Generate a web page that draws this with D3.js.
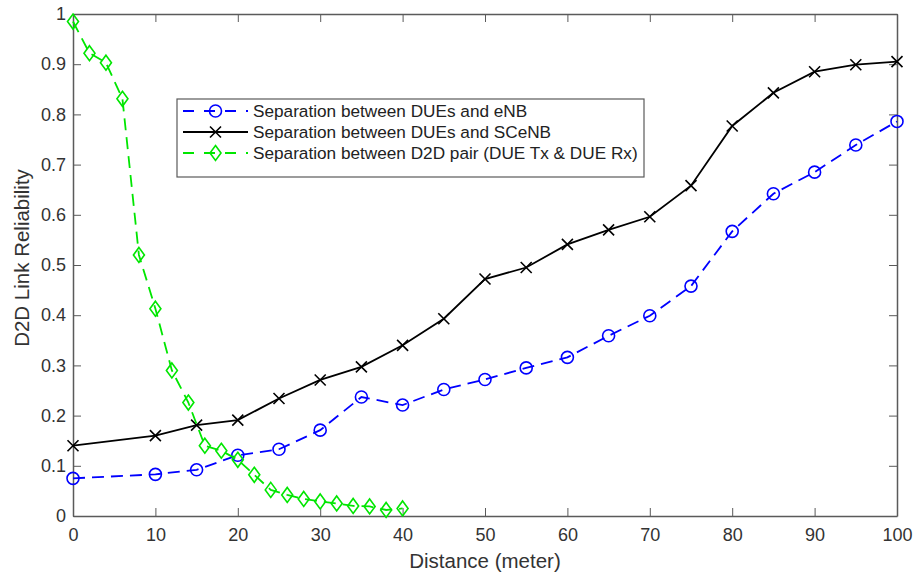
<!DOCTYPE html>
<html><head><meta charset="utf-8">
<script src="https://cdn.jsdelivr.net/npm/d3@7"></script>
<style>body{margin:0;background:#fff}</style>
</head><body>
<svg id="c" width="920" height="575"></svg>
<script>
const xTicks = [0,10,20,30,40,50,60,70,80,90,100];
const yTicks = [0,0.1,0.2,0.3,0.4,0.5,0.6,0.7,0.8,0.9,1];
const xENB = [0,10,15,20,25,30,35,40,45,50,55,60,65,70,75,80,85,90,95,100];
const yENB = [0.075,0.083,0.092,0.121,0.133,0.171,0.237,0.221,0.252,0.272,0.295,0.316,0.359,0.399,0.458,0.567,0.642,0.685,0.739,0.786];
const xSC = [0,10,15,20,25,30,35,40,45,50,55,60,65,70,75,80,85,90,95,100];
const ySC = [0.140,0.160,0.181,0.191,0.234,0.271,0.297,0.340,0.393,0.472,0.495,0.541,0.570,0.596,0.658,0.777,0.843,0.885,0.899,0.905];
const xD2D = [0,2,4,6,8,10,12,14,16,18,20,22,24,26,28,30,32,34,36,38,40];
const yD2D = [0.985,0.922,0.903,0.831,0.520,0.413,0.290,0.226,0.140,0.130,0.112,0.082,0.052,0.042,0.034,0.029,0.025,0.020,0.019,0.012,0.015];
const legendLabels = ["Separation between DUEs and eNB","Separation between DUEs and SCeNB","Separation between D2D pair (DUE Tx & DUE Rx)"];

const svg = d3.select("#c");
const L=73, R=897, T=14, B=516;
const x = d3.scaleLinear().domain([0,100]).range([L,R]);
const y = d3.scaleLinear().domain([0,1]).range([B,T]);
const font = "Liberation Sans, Arial, Helvetica, sans-serif";
const axCol = "#5a5a5a";

// axes
const gx = svg.append("g").attr("transform",`translate(0,${B})`)
  .call(d3.axisBottom(x).tickValues(xTicks).tickFormat(d3.format("d")).tickSizeInner(-8).tickSizeOuter(0).tickPadding(12));
const gxt = svg.append("g").attr("transform",`translate(0,${T})`)
  .call(d3.axisTop(x).tickValues(xTicks).tickFormat("").tickSizeInner(-8).tickSizeOuter(0));
const gy = svg.append("g").attr("transform",`translate(${L},0)`)
  .call(d3.axisLeft(y).tickValues(yTicks).tickFormat(d=>d===0?"0":d===1?"1":d3.format(".1f")(d)).tickSizeInner(-8).tickSizeOuter(0).tickPadding(7));
const gyr = svg.append("g").attr("transform",`translate(${R},0)`)
  .call(d3.axisRight(y).tickValues(yTicks).tickFormat("").tickSizeInner(-8).tickSizeOuter(0));
[gx,gxt,gy,gyr].forEach(g=>{
  g.selectAll("path").attr("stroke",axCol).attr("stroke-width",1.5);
  g.selectAll("line").attr("stroke",axCol).attr("stroke-width",1);
  g.selectAll("text").attr("fill","#333").style("font-family",font).style("font-size","18px");
});

svg.append("text").attr("x",(L+R)/2).attr("y",568).attr("text-anchor","middle")
  .style("font-family",font).style("font-size","20.5px").attr("fill","#333").text("Distance (meter)");
svg.append("text").attr("transform",`translate(29,258) rotate(-90)`).attr("text-anchor","middle")
  .style("font-family",font).style("font-size","20.5px").attr("fill","#333").text("D2D Link Reliability");

const line = d3.line().x(d=>x(d[0])).y(d=>y(d[1]));
const series = [
  {xs:xENB, ys:yENB, color:"#0000ff", dash:"12,7", marker:"circle"},
  {xs:xSC, ys:ySC, color:"#000000", dash:null, marker:"x"},
  {xs:xD2D, ys:yD2D, color:"#00e600", dash:"12,7", marker:"diamond"}
];
function drawMarker(g, type, cx, cy, color){
  if(type==="circle"){
    g.append("circle").attr("cx",cx).attr("cy",cy).attr("r",6).attr("fill","none").attr("stroke",color).attr("stroke-width",1.6);
  } else if(type==="x"){
    const s=5.5;
    g.append("path").attr("d",`M${cx-s},${cy-s}L${cx+s},${cy+s}M${cx-s},${cy+s}L${cx+s},${cy-s}`).attr("stroke",color).attr("stroke-width",1.6);
  } else {
    const w=5.5,h=7.5;
    g.append("path").attr("d",`M${cx},${cy-h}L${cx+w},${cy}L${cx},${cy+h}L${cx-w},${cy}Z`).attr("fill","none").attr("stroke",color).attr("stroke-width",1.6);
  }
}
series.forEach(s=>{
  const pts = s.xs.map((v,i)=>[v,s.ys[i]]);
  const g = svg.append("g");
  g.append("path").datum(pts).attr("d",line).attr("fill","none").attr("stroke",s.color)
    .attr("stroke-width",1.8).attr("stroke-dasharray",s.dash);
  pts.forEach(p=>drawMarker(g,s.marker,x(p[0]),y(p[1]),s.color));
});

// legend
const lg = svg.append("g");
lg.append("rect").attr("x",177).attr("y",99).attr("width",467).attr("height",78)
  .attr("fill","#fff").attr("stroke",axCol).attr("stroke-width",1.2);
legendLabels.forEach((t,i)=>{
  const s = series[i];
  const yy = 111 + i*21;
  lg.append("line").attr("x1",183).attr("x2",248).attr("y1",yy).attr("y2",yy)
    .attr("stroke",s.color).attr("stroke-width",1.8).attr("stroke-dasharray",s.dash?"11,10":null);
  drawMarker(lg,s.marker,215.5,yy,s.color);
  lg.append("text").attr("x",253).attr("y",yy+6).style("font-family",font).style("font-size","17.2px")
    .attr("fill","#222").text(t);
});
</script>
</body></html>
